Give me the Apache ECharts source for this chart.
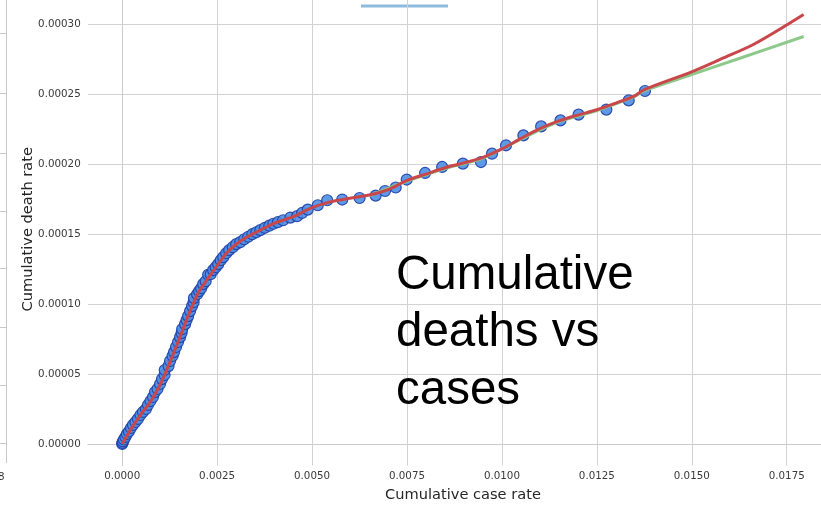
<!DOCTYPE html>
<html><head><meta charset="utf-8">
<style>
html,body{margin:0;padding:0;overflow:hidden;background:#fff;width:821px;height:505px;}
#chart{position:absolute;left:0;top:-7px;width:838px;height:512px;}
</style>
<script src="https://cdn.jsdelivr.net/npm/echarts@6/dist/echarts.min.js"></script>
</head><body><div id="chart"></div>
<script>
// Scatter observations: cumulative case rate vs cumulative death rate
const caseRate = [
  0.00000, 0.000005, 0.00002, 0.000045, 0.000085, 0.000124, 0.000177, 0.00023, 0.000283, 0.000349,
  0.000415, 0.000481, 0.000547, 0.000626, 0.000679, 0.000745, 0.000811, 0.000864, 0.00093, 0.000996,
  0.001049, 0.001115, 0.00112, 0.00122, 0.00126, 0.001326, 0.001366, 0.001418, 0.001471, 0.001524,
  0.001564, 0.00158, 0.001656, 0.001696, 0.001735, 0.001788, 0.001841, 0.001881, 0.00189, 0.001973,
  0.002026, 0.002079, 0.002132, 0.002198, 0.002264, 0.00233, 0.002396, 0.002462, 0.002528, 0.002594,
  0.00266, 0.002739, 0.002818, 0.002911, 0.003003, 0.003109, 0.003214, 0.00332, 0.003426, 0.003532,
  0.003637, 0.003756, 0.003875, 0.003981, 0.004099,
  0.004237, 0.004429, 0.004606, 0.004738, 0.004886, 0.005150, 0.005399, 0.005795, 0.006252, 0.006675,
  0.006920, 0.007203, 0.007493, 0.007977, 0.008426, 0.008972, 0.009448, 0.009739, 0.010108, 0.010565,
  0.011033, 0.011542, 0.012018, 0.012750, 0.013339, 0.013767
];
const deathRate = [
  0.0000000, 0.0000007, 0.0000018, 0.0000032, 0.0000050, 0.0000071, 0.0000089, 0.0000114, 0.0000136, 0.0000157,
  0.0000179, 0.0000207, 0.0000229, 0.0000250, 0.0000279, 0.0000307, 0.0000336, 0.0000371, 0.0000393, 0.0000429,
  0.0000464, 0.0000493, 0.0000529, 0.0000557, 0.0000593, 0.0000629, 0.0000657, 0.0000693, 0.0000729, 0.0000764,
  0.0000793, 0.0000821, 0.0000857, 0.0000886, 0.0000914, 0.0000950, 0.0000986, 0.0001014, 0.0001043, 0.0001071,
  0.0001093, 0.0001114, 0.0001143, 0.0001164, 0.0001210, 0.0001214, 0.0001243, 0.0001264, 0.0001286, 0.0001314,
  0.0001336, 0.0001364, 0.0001386, 0.0001407, 0.0001429, 0.0001443, 0.0001464, 0.0001482, 0.0001500, 0.0001514,
  0.0001529, 0.0001546, 0.0001561, 0.0001575, 0.0001586,
  0.0001600, 0.0001619, 0.0001629, 0.0001652, 0.0001676, 0.0001707, 0.0001743, 0.0001748, 0.0001759, 0.0001776,
  0.0001809, 0.0001834, 0.0001891, 0.0001938, 0.0001981, 0.0002005, 0.0002016, 0.0002076, 0.0002136, 0.0002207,
  0.0002271, 0.0002314, 0.0002355, 0.0002391, 0.0002457, 0.0002524
];
// Red fitted curve
const redFitX = [0, 0.00025, 0.0005, 0.00075, 0.001, 0.00125, 0.0015, 0.00175, 0.002, 0.00225,
  0.0025, 0.00275, 0.003, 0.00325, 0.0035, 0.00375, 0.004, 0.0045, 0.005, 0.0055,
  0.006, 0.0065, 0.007, 0.0075, 0.008, 0.0085, 0.009, 0.0095, 0.01, 0.0105,
  0.011, 0.0115, 0.012, 0.0125, 0.013, 0.0135, 0.013753, 0.014995, 0.015787, 0.016659, 0.017945];
const redFitY = [0, 0.0000115, 0.0000215, 0.0000305, 0.0000425, 0.000058, 0.000075, 0.0000925, 0.000108, 0.000118,
  0.0001275, 0.0001365, 0.0001428, 0.0001475, 0.000151, 0.0001545, 0.0001578, 0.0001625, 0.000169, 0.0001733,
  0.0001757, 0.000178, 0.0001819, 0.0001885, 0.000193, 0.0001975, 0.000201, 0.000205, 0.000211, 0.0002185,
  0.0002255, 0.000231, 0.0002352, 0.000239, 0.0002438, 0.000249, 0.0002534, 0.0002661, 0.0002755, 0.0002862, 0.0003071];
// Green fitted curve
const greenFitX = [0.0065, 0.0075, 0.0085, 0.0095, 0.0105, 0.0115, 0.0125, 0.0135, 0.013753, 0.014995, 0.016228, 0.017945];
const greenFitY = [0.0001775, 0.000188, 0.000197, 0.0002045, 0.000218, 0.0002305, 0.0002385, 0.0002486, 0.0002527, 0.0002641, 0.0002755, 0.0002914];
// Tick labels
const xTicks = [0, 0.0025, 0.005, 0.0075, 0.01, 0.0125, 0.015, 0.0175];
const yTicks = [0, 0.00005, 0.0001, 0.00015, 0.0002, 0.00025, 0.0003];

const zip = (a, b) => a.map((v, i) => [v, b[i]]);
const chart = echarts.init(document.getElementById('chart'), null, {renderer: 'canvas'});
const axisFont = {fontFamily: 'DejaVu Sans', fontSize: 10.3, color: '#3a3a3a'};
const titleFont = {fontFamily: 'DejaVu Sans', fontSize: 14.6, color: '#262626'};
const gridColor = '#d2d2d2';

const remnantTicks = [40, 100, 160, 218, 275, 334, 392, 450].map(y => ({
  type: 'line', shape: {x1: 0, y1: y + 0.5, x2: 6, y2: y + 0.5}, style: {stroke: '#c8c8c8', lineWidth: 1}, silent: true
}));

chart.setOption({
  animation: false,
  backgroundColor: '#fff',
  grid: {left: 88, top: 0, right: 0, bottom: 39.5, outerBoundsMode: 'none', containLabel: false},
  xAxis: {
    type: 'value', min: -0.0009, max: 0.01885,
    name: 'Cumulative case rate', nameLocation: 'middle', nameGap: 22, nameMoveOverlap: false, nameTextStyle: titleFont,
    axisLine: {show: true, lineStyle: {color: '#cccccc', width: 1}},
    axisTick: {show: false, customValues: xTicks},
    axisLabel: {customValues: xTicks, margin: 6, formatter: v => v.toFixed(4), ...axisFont},
    splitLine: {show: true, lineStyle: {color: gridColor, width: 1}}
  },
  yAxis: {
    type: 'value', min: -0.0000154, max: 0.0003225,
    name: 'Cumulative death rate', nameLocation: 'middle', nameGap: 52, nameRotate: 90, nameMoveOverlap: false, nameTextStyle: titleFont,
    axisLine: {show: true, lineStyle: {color: '#cccccc', width: 1}},
    axisTick: {show: false, customValues: yTicks},
    axisLabel: {customValues: yTicks, margin: 7.3, formatter: v => v.toFixed(5), ...axisFont},
    splitLine: {show: true, lineStyle: {color: gridColor, width: 1}}
  },
  series: [
    {
      type: 'scatter', data: zip(caseRate, deathRate), symbolSize: 11, z: 2,
      itemStyle: {color: '#4d8fe3', borderColor: '#1f3ea6', borderWidth: 1.2, opacity: 0.9}
    },
    {
      type: 'line', data: zip(greenFitX, greenFitY), showSymbol: false, smooth: 0.3, z: 3,
      lineStyle: {color: '#8cc98a', width: 3}
    },
    {
      type: 'line', data: zip(redFitX, redFitY), showSymbol: false, smooth: 0.3, z: 4,
      lineStyle: {color: '#c9474a', width: 3}
    }
  ],
  graphic: [
    {type: 'line', shape: {x1: 6.5, y1: 0, x2: 6.5, y2: 470}, style: {stroke: '#c8c8c8', lineWidth: 1}, silent: true},
    ...remnantTicks,
    {type: 'text', left: -2, top: 479, style: {text: '8', font: '10.3px "DejaVu Sans"', fill: '#333'}, silent: true},
    {type: 'line', shape: {x1: 361, y1: 13, x2: 448, y2: 13}, style: {stroke: '#8dbbdd', lineWidth: 3}, silent: true},
    {type: 'text', left: 396, top: 254, z: 10,
      style: {text: 'Cumulative\ndeaths vs\ncases', font: '47.5px "Liberation Sans"', lineHeight: 57.5, fill: '#000'}, silent: true}
  ]
});
</script>
</body></html>
